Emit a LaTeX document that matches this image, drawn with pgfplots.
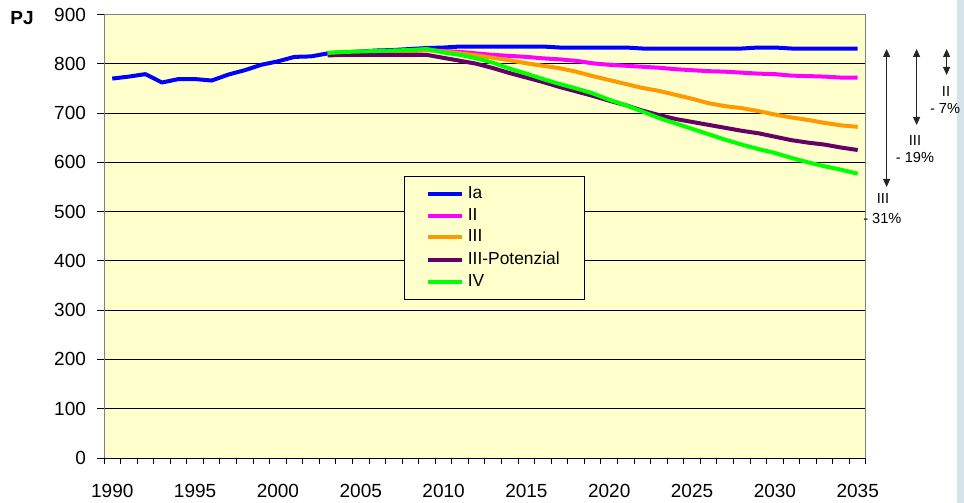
\documentclass[border=0pt]{standalone}
\usepackage{pgfplots}
\pgfplotsset{compat=1.18}
\usepackage{fontspec}
\setmainfont{Liberation Sans}
\usetikzlibrary{arrows.meta}
\definecolor{bgyellow}{RGB}{255,255,204}
\definecolor{sIa}{RGB}{0,0,255}
\definecolor{sII}{RGB}{255,0,255}
\definecolor{sIII}{RGB}{255,153,0}
\definecolor{sIIIP}{RGB}{102,0,102}
\definecolor{sIV}{RGB}{0,255,0}
\definecolor{stripe}{RGB}{214,227,234}
\begin{document}
\begin{tikzpicture}
\path[use as bounding box, fill=white] (0,0) rectangle (482pt,251.5pt);
\fill[stripe] (478.5pt,0) rectangle (482pt,251.5pt);
\begin{axis}[
  at={(52pt,22.5pt)}, anchor=south west,
  scale only axis, width=381pt, height=221.75pt,
  xmin=1989.5, xmax=2035.5, ymin=0, ymax=900,
  axis background/.style={fill=bgyellow},
  axis line style={draw=gray, line width=0.5pt},
  xtick={1990,1995,...,2035},
  minor xtick={1989.5,1990.5,...,2035.5},
  major x tick style={draw=none},
  minor tick length=3pt,
  ytick={0,100,...,900},
  tick align=outside,
  major tick length=3.5pt,
  tick style={black, line width=0.5pt},
  xtick pos=bottom, ytick pos=left,
  ymajorgrids, grid style={black, line width=0.5pt},
  /pgf/number format/assume math mode=true,
  xticklabel={\pgfmathprintnumber[1000 sep={}]{\tick}},
  ticklabel style={font=\fontsize{9.5}{11}\selectfont},
  xticklabel style={yshift=-6pt},
  yticklabel style={xshift=-2pt},
  clip=false,
  legend cell align=left,
  legend style={at={(0.394,0.636)}, anchor=north west, fill=bgyellow,
    draw=black, line width=0.5pt, font=\fontsize{8.7}{10}\selectfont,
    inner xsep=10.5pt, inner ysep=3pt, row sep=-0.6pt},
  every axis plot/.append style={line width=2pt, line join=round, no markers},
]
\addplot[sIa] coordinates {
(1990,770)(1991,774)(1992,779)(1993,762)(1994,769)(1995,769)(1996,766)(1997,778)(1998,787)(1999,798)
(2000,805)(2001,814)(2002,815)(2003,821)(2004,823)(2005,825)(2006,827)(2007,828)(2008,830)(2009,832)
(2010,833)(2011,835)(2012,835)(2013,835)(2014,835)(2015,835)(2016,835)(2017,833)(2018,833)(2019,833)
(2020,833)(2021,833)(2022,831)(2023,831)(2024,831)(2025,831)(2026,831)(2027,831)(2028,831)(2029,833)
(2030,833)(2031,831)(2032,831)(2033,831)(2034,831)(2035,831)};
\addlegendentry{Ia}
\addplot[sII] coordinates {
(2003,822)(2004,823)(2005,824)(2006,825)(2007,825)(2008,826)(2009,828)(2010,826)(2011,824)(2012,821)
(2013,818)(2014,816)(2015,814)(2016,811)(2017,809)(2018,806)(2019,801)(2020,798)(2021,796)(2022,794)
(2023,792)(2024,789)(2025,787)(2026,785)(2027,784)(2028,782)(2029,780)(2030,779)(2031,776)(2032,775)
(2033,774)(2034,772)(2035,772)};
\addlegendentry{II}
\addplot[sIII] coordinates {
(2003,822)(2004,823)(2005,824)(2006,825)(2007,825)(2008,826)(2009,828)(2010,825)(2011,821)(2012,817)
(2013,812)(2014,807)(2015,801)(2016,796)(2017,791)(2018,784)(2019,775)(2020,767)(2021,759)(2022,751)
(2023,745)(2024,737)(2025,729)(2026,720)(2027,714)(2028,710)(2029,704)(2030,697)(2031,691)(2032,686)
(2033,680)(2034,675)(2035,672)};
\addlegendentry{III}
\addplot[sIIIP] coordinates {
(2003,817)(2004,818)(2005,818)(2006,818)(2007,818)(2008,818)(2009,818)(2010,812)(2011,806)(2012,800)
(2013,791)(2014,781)(2015,772)(2016,763)(2017,753)(2018,744)(2019,735)(2020,725)(2021,716)(2022,705)
(2023,696)(2024,688)(2025,682)(2026,676)(2027,670)(2028,664)(2029,659)(2030,652)(2031,645)(2032,640)
(2033,636)(2034,630)(2035,625)};
\addlegendentry{III-Potenzial}
\addplot[sIV] coordinates {
(2003,822)(2004,824)(2005,825)(2006,826)(2007,827)(2008,828)(2009,830)(2010,823)(2011,818)(2012,811)
(2013,802)(2014,790)(2015,780)(2016,769)(2017,759)(2018,750)(2019,740)(2020,727)(2021,716)(2022,703)
(2023,690)(2024,679)(2025,668)(2026,657)(2027,646)(2028,636)(2029,627)(2030,619)(2031,609)(2032,600)
(2033,592)(2034,585)(2035,577)};
\addlegendentry{IV}
\draw[black, line width=0.5pt] (rel axis cs:0,0) -- (rel axis cs:1,0);
\end{axis}
\node[font=\bfseries\fontsize{9.5}{11}\selectfont] at (11pt,242.5pt) {PJ};
\begin{scope}[line width=0.5pt, black!85]
\draw[{Triangle[length=4pt,width=3.5pt]}-{Triangle[length=4pt,width=3.5pt]}] (443.3pt,227pt) -- (443.3pt,158pt);
\draw[{Triangle[length=4pt,width=3.5pt]}-{Triangle[length=4pt,width=3.5pt]}] (458.3pt,227pt) -- (458.3pt,189pt);
\draw[{Triangle[length=4pt,width=3.5pt]}-{Triangle[length=4pt,width=3.5pt]}] (473.3pt,227pt) -- (473.3pt,214pt);
\end{scope}
\begin{scope}[font=\fontsize{7.3}{8}\selectfont, inner sep=0pt]
\node at (441.5pt,152.5pt) {III};
\node at (441.2pt,142.5pt) {- 31\%};
\node at (457.5pt,181.5pt) {III};
\node at (457.5pt,173pt) {- 19\%};
\node at (473pt,205.6pt) {II};
\node at (472.5pt,197.5pt) {- 7\%};
\end{scope}
\end{tikzpicture}
\end{document}
